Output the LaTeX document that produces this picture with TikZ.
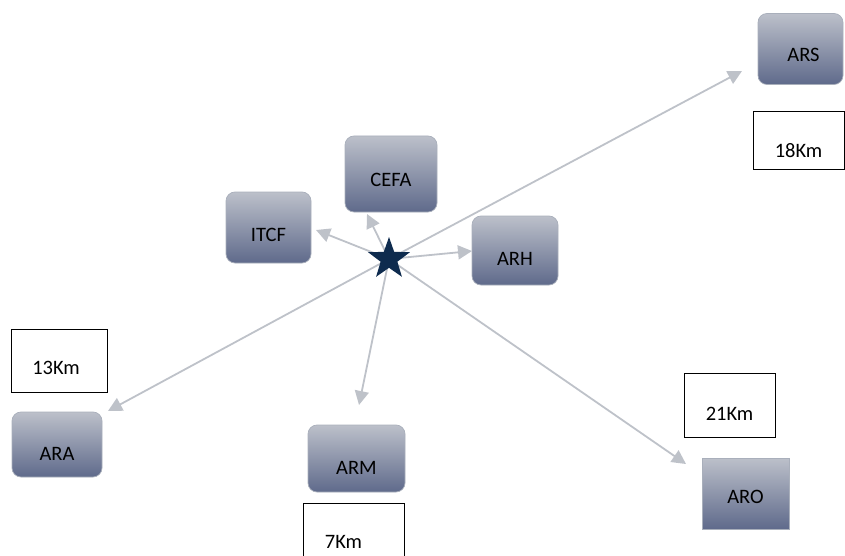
\documentclass[tikz,border=0pt]{standalone}
\usepackage{fontspec}
\setmainfont{Carlito}
\usetikzlibrary{arrows.meta,shapes.geometric}
\definecolor{boxtop}{HTML}{BCC0CA}
\definecolor{boxbot}{HTML}{5F6A8B}
\definecolor{boxedge}{HTML}{A9AFBB}
\definecolor{linkc}{HTML}{BEC2C9}
\definecolor{starc}{HTML}{0E2B4E}
\newcommand{\txtoff}[3]{\raisebox{-#2}[\height][\depth]{\hspace*{#1}#3\hspace*{-#1}}}
\begin{document}
\begin{tikzpicture}[x=1pt,y=-1pt,
  org/.style={draw=boxedge, line width=0.7pt, top color=boxtop, bottom color=boxbot,
    inner sep=0pt, font=\fontsize{20.5}{24}\selectfont},
  orgr/.style={org, rounded corners=9pt},
  dist/.style={draw=black, line width=0.8pt, fill=white, inner sep=0pt,
    font=\fontsize{20.5}{24}\selectfont},
  link/.style={draw=linkc, line width=1.8pt, -{Triangle[length=14pt,width=14pt]}}]
\useasboundingbox (0,0) rectangle (845,556);

% organisation boxes
\node[orgr, minimum width=85pt, minimum height=71pt] (ARS) at (800.5,49) {\txtoff{3pt}{6pt}{ARS}};
\node[orgr, minimum width=92pt, minimum height=76pt] (CEFA) at (391,174) {\txtoff{0pt}{6pt}{CEFA}};
\node[orgr, minimum width=85pt, minimum height=71pt] (ITCF) at (268.5,227.5) {\txtoff{0pt}{7pt}{ITCF}};
\node[orgr, minimum width=86pt, minimum height=69pt] (ARH) at (515,250.5) {\txtoff{0pt}{8pt}{ARH}};
\node[orgr, minimum width=90pt, minimum height=65pt] (ARA) at (57,444.5) {\txtoff{0pt}{9.5pt}{ARA}};
\node[orgr, minimum width=97pt, minimum height=67pt] (ARM) at (356.5,458.5) {\txtoff{0pt}{9.5pt}{ARM}};
\node[org, minimum width=87pt, minimum height=71pt] (ARO) at (745.5,493.5) {\txtoff{0pt}{3.5pt}{ARO}};

% distance boxes
\node[dist, minimum width=91pt, minimum height=58pt] (d18) at (798.5,140) {\txtoff{0pt}{11pt}{18Km}};
\node[dist, minimum width=96pt, minimum height=63pt] (d13) at (59,360.5) {\txtoff{-3pt}{7pt}{13Km}};
\node[dist, minimum width=91pt, minimum height=64pt] (d21) at (729.5,405) {\txtoff{0pt}{8.5pt}{21Km}};
\node[dist, minimum width=101pt, minimum height=78pt] (d7) at (353.5,542) {\txtoff{-10pt}{0pt}{7Km}};

% arrow tips
\coordinate (tARS) at (742,71);
\coordinate (tCEFA) at (367,214);
\coordinate (tITCF) at (316,230);
\coordinate (tARH) at (472,251);
\coordinate (tARA) at (108,411);
\coordinate (tARM) at (359,405);
\coordinate (tARO) at (686,464);

\coordinate (S) at (389,259);
\foreach \t in {tARS,tCEFA,tITCF,tARH,tARA,tARM,tARO}
  \draw[link] (S) -- (\t);

\node[star, star points=5, star point ratio=2.5, minimum size=44pt, inner sep=0pt, fill=starc] (star) at (S) {};
\end{tikzpicture}
\end{document}
